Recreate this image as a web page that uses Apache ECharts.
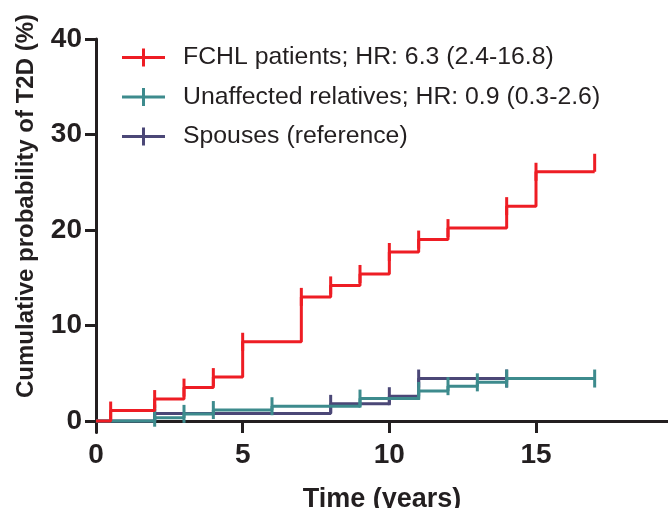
<!DOCTYPE html>
<html>
<head>
<meta charset="utf-8">
<script src="https://cdn.jsdelivr.net/npm/echarts@6/dist/echarts.min.js"></script>
<style>html,body{margin:0;padding:0;background:#fff;}#c{width:668px;height:508px;}</style>
</head>
<body>
<div id="c"></div>
<script>
// Series names
var seriesNames = ['FCHL patients; HR: 6.3 (2.4-16.8)', 'Unaffected relatives; HR: 0.9 (0.3-2.6)', 'Spouses (reference)'];
// FCHL patients: time (years) of each step and cumulative probability (%) after it
var fchlTime = [0, 0.5, 2, 3, 4, 5, 7, 8, 9, 10, 11, 12, 14, 15, 17];
var fchlProb = [0, 1.1, 2.3, 3.5, 4.6, 8.3, 13.0, 14.2, 15.4, 17.7, 19.0, 20.2, 22.5, 26.1, 26.1];
// Unaffected relatives
var relTime = [0, 2, 3, 4, 6, 9, 11, 12, 13, 14, 17];
var relProb = [0, 0.35, 0.75, 1.15, 1.55, 2.35, 3.15, 3.65, 4.05, 4.45, 4.45];
// Spouses (reference)
var spoTime = [0, 2, 8, 10, 11, 14];
var spoProb = [0, 0.8, 1.8, 2.6, 4.45, 4.45];
// Axis ticks
var xTicks = [0, 5, 10, 15];
var yTicks = [0, 10, 20, 30, 40];

var colors = ['#ee1d24', '#3d8b8d', '#4b4777'];
var axisColor = '#231f20';
var font = 'Liberation Sans, Arial, sans-serif';

function pts(t, p, upEnd) {
  return t.map(function (x, i) {
    var d = { value: [x, p[i]] };
    if (i === 0) d.symbol = 'none';
    if (upEnd && i === t.length - 1) d.symbolOffset = [0, -9];
    return d;
  });
}
function mkSeries(name, t, p, color, z, upEnd) {
  return {
    name: name, type: 'line', step: 'end', data: pts(t, p, upEnd), z: z,
    lineStyle: { color: color, width: 3 },
    itemStyle: { color: color },
    symbol: 'rect', symbolSize: [3, 18], showSymbol: true,
    emphasis: { disabled: true }, silent: true
  };
}
var iconPath = 'path://M0,7.5h43v3H0z M20,0h3v18h-3z';

var chart = echarts.init(document.getElementById('c'), null, { renderer: 'canvas' });
chart.setOption({
  animation: false,
  color: colors,
  grid: { left: 96, right: 0, top: 39, bottom: 75.5, containLabel: false, outerBoundsMode: 'none' },
  legend: {
    orient: 'vertical', left: 117, top: 40, itemGap: 14.5,
    itemWidth: 43, itemHeight: 18,
    data: [
      { name: seriesNames[0], icon: iconPath, itemStyle: { color: colors[0] } },
      { name: seriesNames[1], icon: iconPath, itemStyle: { color: colors[1] } },
      { name: seriesNames[2], icon: iconPath, itemStyle: { color: colors[2] } }
    ],
    textStyle: { fontFamily: font, fontSize: 24.8, color: '#231f20', lineHeight: 24, padding: [0, 0, 0, 13] },
    selectedMode: false
  },
  xAxis: {
    type: 'value', min: 0, max: 19.5, interval: 5,
    name: 'Time (years)', nameLocation: 'middle', nameGap: 54,
    nameTextStyle: { fontFamily: font, fontWeight: 'bold', fontSize: 27, color: axisColor },
    axisLine: { onZero: true, lineStyle: { color: axisColor, width: 3 } },
    axisTick: { show: true, length: 12, lineStyle: { color: axisColor, width: 3 }, customValues: xTicks },
    axisLabel: { margin: 9, fontFamily: font, fontWeight: 'bold', fontSize: 28, color: axisColor, customValues: xTicks },
    splitLine: { show: false }
  },
  yAxis: {
    type: 'value', min: -1.2, max: 40,
    axisLine: { show: true, lineStyle: { color: axisColor, width: 3 } },
    axisTick: { show: true, length: 11, lineStyle: { color: axisColor, width: 3 }, customValues: yTicks },
    axisLabel: { margin: 14, fontFamily: font, fontWeight: 'bold', fontSize: 28, color: axisColor, customValues: yTicks },
    splitLine: { show: false }
  },
  graphic: [{
    type: 'text', x: 26, y: 206, rotation: Math.PI / 2,
    style: { text: 'Cumulative probability of T2D (%)', fontFamily: font, fontWeight: 'bold', fontSize: 24,
      fill: axisColor, align: 'center', verticalAlign: 'middle' }
  }],
  series: [
    mkSeries(seriesNames[2], spoTime, spoProb, colors[2], 2, false),
    mkSeries(seriesNames[1], relTime, relProb, colors[1], 3, false),
    mkSeries(seriesNames[0], fchlTime, fchlProb, colors[0], 4, true)
  ]
});
</script>
</body>
</html>
